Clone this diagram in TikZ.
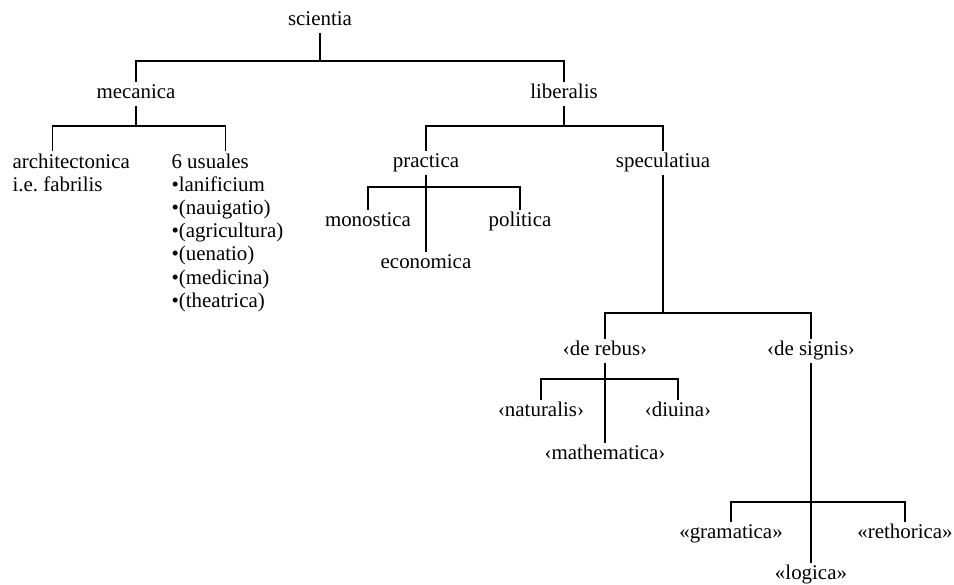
\documentclass[tikz,border=0pt]{standalone}
\usepackage{fontspec}
\setmainfont{Liberation Serif}
\usepackage{tikz}
\usetikzlibrary{positioning,calc}
\frenchspacing

\begin{document}
\begin{tikzpicture}[
  x=0.478pt, y=-0.478pt,
  term/.style={anchor=base, inner sep=1pt, text height=0.7em, text depth=0.2em, font=\fontsize{10}{11.1}\selectfont},
  list/.style={anchor=north west, inner sep=1pt, align=left, font=\fontsize{10}{11.1}\selectfont},
  link/.style={draw, line width=0.5pt}
]
\useasboundingbox (0,0) rectangle (954,585);
% Root
\node[term] (sci) at (320,26) {scientia};
\node[term] (mec) at (136,99) {mecanica};
\node[term] (lib) at (564,99) {liberalis};
% Mecanica
\node[list] (arch) at (10,151) {architectonica\\i.e. fabrilis};
\node[list] (usu) at (169,151) {6 usuales\\•lanificium\\•(nauigatio)\\•(agricultura)\\•(uenatio)\\•(medicina)\\•(theatrica)};
% Liberalis
\node[term] (prac) at (426,168) {practica};
\node[term] (spec) at (663,168) {speculatiua};
\node[term] (mono) at (368,227) {monostica};
\node[term] (poli) at (520,227) {politica};
\node[term] (econ) at (426,269) {economica};
% Speculatiua
\node[term] (rebus) at (605,356) {‹de rebus›};
\node[term] (signis) at (811,356) {‹de signis›};
\node[term] (nat) at (541,417) {‹naturalis›};
\node[term] (diu) at (678,417) {‹diuina›};
\node[term] (math) at (605,460) {‹mathematica›};
\node[term] (gram) at (731,539) {«gramatica»};
\node[term] (reth) at (905,539) {«rethorica»};
\node[term] (logi) at (811,580) {«logica»};
% Junctions
\coordinate (b-sci) at (320,61);
\coordinate (b-mec) at (136,126);
\coordinate (b-lib) at (564,126);
\coordinate (b-prac) at (426,187);
\coordinate (b-spec) at (663,313);
\coordinate (b-rebus) at (605,379);
\coordinate (b-signis) at (811,502);
% Connections
\draw[link] (sci) -- (b-sci);
\draw[link] (mec) |- (b-sci) -| (lib);
\draw[link] (mec) -- (b-mec);
\draw[link] ([xshift=-9]arch.north) |- (b-mec) -| ([xshift=-1]usu.north);
\draw[link] (lib) -- (b-lib);
\draw[link] (prac) |- (b-lib) -| (spec);
\draw[link] (prac) -- (econ);
\draw[link] (mono) |- (b-prac) -| (poli);
\draw[link] (spec) -- (b-spec);
\draw[link] (rebus) |- (b-spec) -| (signis);
\draw[link] (rebus) -- (math);
\draw[link] (nat) |- (b-rebus) -| (diu);
\draw[link] (signis) -- (logi);
\draw[link] (gram) |- (b-signis) -| (reth);
\end{tikzpicture}
\end{document}
